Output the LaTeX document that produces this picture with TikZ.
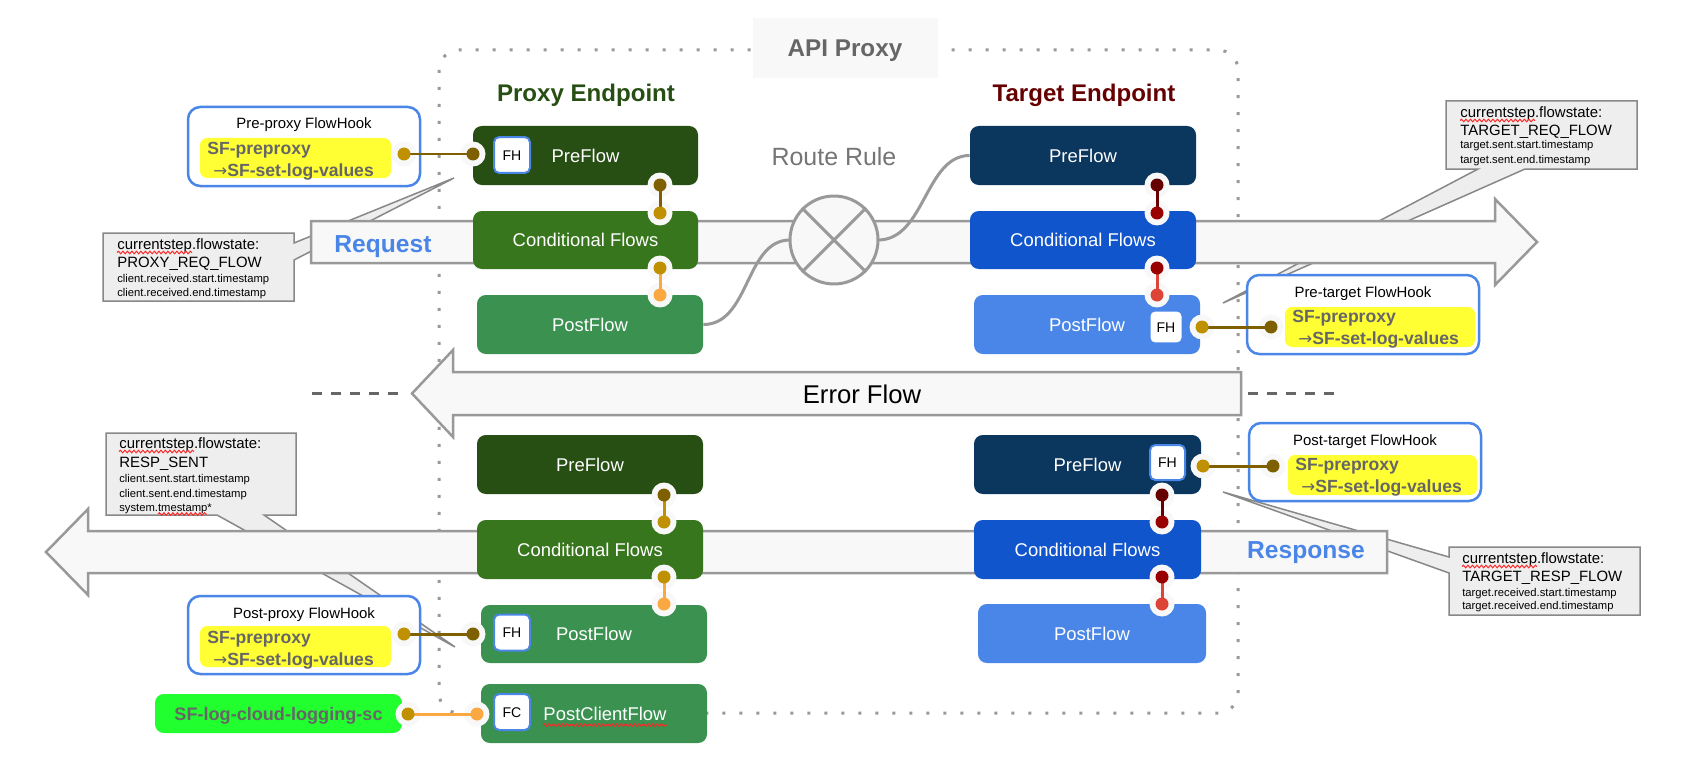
\documentclass[tikz,border=0pt]{standalone}
\usepackage{fontspec}
\setmainfont{Liberation Sans}
\newfontfamily\djv{DejaVu Sans}
\usetikzlibrary{decorations.pathmorphing}
\definecolor{pdark}{HTML}{274E13}
\definecolor{pmid}{HTML}{38761D}
\definecolor{plight}{HTML}{3A9150}
\definecolor{tdark}{HTML}{0B365E}
\definecolor{tmid}{HTML}{1155CC}
\definecolor{tlight}{HTML}{4A86E8}
\definecolor{brn}{HTML}{7F6000}
\definecolor{gold}{HTML}{BF9000}
\definecolor{orng}{HTML}{F9A842}
\definecolor{dred}{HTML}{660000}
\definecolor{mred}{HTML}{990000}
\definecolor{lred}{HTML}{DC4437}
\definecolor{blu}{HTML}{4A86E8}
\definecolor{yel}{HTML}{FFFF33}
\definecolor{grn}{HTML}{22FF2F}
\definecolor{gtext}{HTML}{666666}
\definecolor{rrtext}{HTML}{757575}
\definecolor{afill}{HTML}{F8F8F8}
\definecolor{aline}{HTML}{999999}
\definecolor{cfill}{HTML}{EEEEEE}
\definecolor{cline}{HTML}{888888}
\definecolor{dashgrey}{HTML}{666666}
\newcommand\fsz[1]{\fontsize{#1}{#1}\selectfont}
\newcommand\harr{{\djv\mdseries\fsz{9.5}→}}
\tikzset{
  fbox/.style={rounded corners=5pt, inner sep=0pt, text=white, font=\fsz{10.5}, text height=7.5pt, text depth=0pt},
  fhbox/.style={draw=blu, line width=0.04cm, fill=white, rounded corners=3pt, minimum size=0.72cm, inner sep=0pt, font=\fsz{8}, text height=5.7pt, text depth=0pt},
  halo/.style={circle, fill=afill, minimum size=0.5cm, inner sep=0pt},
  dotn/.style={circle, fill=#1, minimum size=0.26cm, inner sep=0pt},
  link/.style={line width=0.06cm},
  bigarrow/.style={fill=afill, draw=aline, line width=0.05cm},
  callout/.style={fill=cfill, draw=cline, line width=0.03cm},
  cbig/.style={anchor=base west, inner sep=0pt, font=\fsz{8.5}},
  csmall/.style={anchor=base west, inner sep=0pt, font=\fsz{6.4}},
  hookbox/.style={draw=blu, line width=0.05cm, fill=white, rounded corners=7pt, inner sep=0pt},
  yelbox/.style={fill=yel, rounded corners=4pt, inner sep=0pt},
  hooktitle/.style={anchor=base, inner sep=0pt, font=\fsz{8.5}},
  yeltext/.style={anchor=base west, inner sep=0pt, font=\fsz{10}\bfseries, text=gtext},
  wavy/.style={draw=red!85, line width=0.02cm, decorate, decoration={snake, amplitude=0.025cm, segment length=0.09cm}},
  errdash/.style={draw=dashgrey, line width=0.06cm, dash pattern=on 0.2cm off 0.18cm},
}
\newcommand\fbx[7]{\node[fbox, fill=#6, minimum width={(#4-#2)*0.02cm}, minimum height={(#5-#3)*0.02cm}] (#1) at ({(#2+#4)/2},{(#3+#5)/2}) {#7};}
\newcommand\hbx[5]{\node[hookbox, minimum width={(#4-#2)*0.02cm}, minimum height={(#5-#3)*0.02cm}] (#1) at ({(#2+#4)/2},{(#3+#5)/2}) {};}
\newcommand\ybx[5]{\node[yelbox, minimum width={(#4-#2)*0.02cm}, minimum height={(#5-#3)*0.02cm}] (#1) at ({(#2+#4)/2},{(#3+#5)/2}) {};}
\newcommand\dlink[6]{%
  \node[halo] (#1a) at (#2) {};
  \node[halo] (#1b) at (#4) {};
  \draw[link, #6] (#1a.center) -- (#1b.center);
  \node[dotn=#3] (#1c) at (#1a) {};
  \node[dotn=#5] (#1d) at (#1b) {};}
\begin{document}
\begin{tikzpicture}[x=0.02cm, y=-0.02cm]
\useasboundingbox (0,0) rectangle (1697,777);
\fill[white] (0,0) rectangle (1697,777);

% API proxy boundary
\draw[draw=aline, line width=0.06cm, dash pattern=on 0.06cm off 0.28cm, rounded corners=0.4cm] (439,50) rectangle (1238,713);
\node[fill=afill, minimum width=3.7cm, minimum height=1.2cm, inner sep=0pt] (apibox) at (845.5,48) {};
\node[anchor=base, inner sep=0pt, font=\fsz{13.8}\bfseries, text=gtext] (apitext) at (845,57) {API Proxy};

% callouts
\draw[callout] (103,233) -- (294,233) -- (294,243) -- (454,178) -- (294,260) -- (294,301) -- (103,301) -- cycle;
\node[cbig] (c1a) at (117,249) {currentstep.flowstate:};
\node[cbig] (c1b) at (117,267) {PROXY\_REQ\_FLOW};
\node[csmall] (c1c) at (117,282) {client.received.start.timestamp};
\node[csmall] (c1d) at (117,296) {client.received.end.timestamp};
\draw[wavy] ([yshift=-0.07cm]c1a.base west) -- ++(75,0);

\draw[callout] (1446,101) -- (1637,101) -- (1637,169) -- (1525,169) -- (1223,303) -- (1478,169) -- (1446,169) -- cycle;
\node[cbig] (c2a) at (1460,117) {currentstep.flowstate:};
\node[cbig] (c2b) at (1460,135) {TARGET\_REQ\_FLOW};
\node[csmall] (c2c) at (1460,149) {target.sent.start.timestamp};
\node[csmall] (c2d) at (1460,163) {target.sent.end.timestamp};
\draw[wavy] ([yshift=-0.07cm]c2a.base west) -- ++(75,0);

\draw[callout] (106,433) -- (296,433) -- (296,515) -- (264,515) -- (455,647) -- (217,515) -- (106,515) -- cycle;
\node[cbig] (c3a) at (119,448) {currentstep.flowstate:};
\node[cbig] (c3b) at (119,467) {RESP\_SENT};
\node[csmall] (c3c) at (119,482) {client.sent.start.timestamp};
\node[csmall] (c3d) at (119,497) {client.sent.end.timestamp};
\node[csmall] (c3e) at (119,511) {system.tmestamp*};
\draw[wavy] ([yshift=-0.07cm]c3a.base west) -- ++(75,0);
\draw[wavy] ([xshift=0.78cm, yshift=-0.06cm]c3e.base west) -- ++(49,0);

\draw[callout] (1449,547) -- (1640,547) -- (1640,615) -- (1449,615) -- (1449,573) -- (1223,492) -- (1449,557) -- cycle;
\node[cbig] (c4a) at (1462,563) {currentstep.flowstate:};
\node[cbig] (c4b) at (1462,581) {TARGET\_RESP\_FLOW};
\node[csmall] (c4c) at (1462,596) {target.received.start.timestamp};
\node[csmall] (c4d) at (1462,609) {target.received.end.timestamp};
\draw[wavy] ([yshift=-0.07cm]c4a.base west) -- ++(75,0);

% big arrows
\draw[bigarrow] (311,221) -- (1495,221) -- (1495,199) -- (1537,242) -- (1495,285) -- (1495,263) -- (311,263) -- cycle;
\node[anchor=base, inner sep=0pt, font=\fsz{14}\bfseries, text=blu] (req) at (383,252) {Request};
\draw[bigarrow] (1241,372) -- (453,372) -- (453,350) -- (412,393.5) -- (453,437) -- (453,415) -- (1241,415) -- cycle;
\node[anchor=base, inner sep=0pt, font=\fsz{14.6}] (err) at (862,403) {Error Flow};
\coordinate (e1) at (312,393.5); \coordinate (e2) at (406,393.5);
\coordinate (e3) at (1248,393.5); \coordinate (e4) at (1337,393.5);
\draw[errdash] (e1) -- (e2);
\draw[errdash] (e3) -- (e4);
\draw[bigarrow] (1387,531) -- (88,531) -- (88,509) -- (46,552) -- (88,595) -- (88,573) -- (1387,573) -- cycle;
\node[anchor=base, inner sep=0pt, font=\fsz{14}\bfseries, text=blu] (resp) at (1306,558) {Response};

% titles
\node[anchor=base, inner sep=0pt, font=\fsz{13.7}\bfseries, text=pdark] (ptitle) at (586,102) {Proxy Endpoint};
\node[anchor=base, inner sep=0pt, font=\fsz{13.7}\bfseries, text=dred] (ttitle) at (1084,102) {Target Endpoint};

% endpoint boxes
\fbx{ppre}{473}{126}{698}{185}{pdark}{PreFlow}
\fbx{pcond}{473}{211}{698}{269}{pmid}{Conditional Flows}
\fbx{ppost}{477}{295}{703}{354}{plight}{PostFlow}
\fbx{tpre}{970}{126}{1196}{185}{tdark}{PreFlow}
\fbx{tcond}{970}{211}{1196}{269}{tmid}{Conditional Flows}
\fbx{tpost}{974}{295}{1200}{354}{tlight}{PostFlow}
\fbx{rppre}{477}{435}{703}{494}{pdark}{PreFlow}
\fbx{rpcond}{477}{520}{703}{579}{pmid}{Conditional Flows}
\fbx{rppost}{481}{605}{707}{663}{plight}{PostFlow}
\fbx{rpcf}{481}{684}{707}{743}{plight}{}
\node[fbox] (pcftext) at (605,713.5) {PostClientFlow};
\draw[wavy] ([yshift=-0.1cm]pcftext.base west) -- ([yshift=-0.1cm]pcftext.base east);
\fbx{rtpre}{974}{435}{1201}{494}{tdark}{PreFlow}
\fbx{rtcond}{974}{520}{1201}{579}{tmid}{Conditional Flows}
\fbx{rtpost}{978}{604}{1206}{663}{tlight}{PostFlow}

% route rule
\draw[aline, line width=0.06cm] (ppost.east) .. controls (750,324.5) and (745,240) .. (790,240);
\draw[aline, line width=0.06cm] (878,240) .. controls (925,240) and (925,155.5) .. (tpre.west);
\node[circle, draw=aline, fill=afill, line width=0.06cm, minimum size=1.76cm, inner sep=0pt] (rr) at (834,240) {};
\draw[aline, line width=0.06cm] (rr.north west) -- (rr.south east);
\draw[aline, line width=0.06cm] (rr.north east) -- (rr.south west);
\node[anchor=base, inner sep=0pt, font=\fsz{14.2}, text=rrtext] (rrl) at (834,165) {Route Rule};

% FH / FC boxes
\node[fhbox] (fh1) at (512,155) {FH};
\node[fhbox, minimum size=0.66cm] (fh2) at (1166,327) {FH};
\node[fhbox] (fh3) at (512,632.5) {FH};
\node[fhbox] (fc1) at (512,712) {FC};
\node[fhbox, minimum size=0.7cm] (fh4) at (1167.5,462.5) {FH};

% vertical connectors
\dlink{v1}{660,185}{brn}{660,213}{gold}{brn}
\dlink{v2}{660,268}{gold}{660,295}{orng}{orng}
\dlink{v3}{1157,185}{dred}{1157,213}{mred}{dred}
\dlink{v4}{1157,268}{mred}{1157,295}{lred}{lred}
\dlink{v5}{664,495}{brn}{664,522}{gold}{gold}
\dlink{v6}{664,577}{gold}{664,604}{orng}{orng}
\dlink{v7}{1162,495}{dred}{1162,522}{mred}{dred}
\dlink{v8}{1162,577}{mred}{1162,604}{lred}{lred}

% flowhook boxes
\hbx{hk1}{188}{107}{420}{186}
\ybx{y1}{200}{138}{391}{178}
\node[hooktitle] (hk1t) at (304,129) {Pre-proxy FlowHook};
\node[yeltext] (y1a) at (207,154) {SF-preproxy};
\node[yeltext] (y1b) at (213,176) {\harr SF-set-log-values};

\hbx{hk2}{1247}{275}{1479}{354}
\ybx{y2}{1285}{307}{1475}{347}
\node[hooktitle] (hk2t) at (1363,297) {Pre-target FlowHook};
\node[yeltext] (y2a) at (1292,322) {SF-preproxy};
\node[yeltext] (y2b) at (1298,344) {\harr SF-set-log-values};

\hbx{hk3}{188}{596}{420}{674}
\ybx{y3}{200}{626}{391}{667}
\node[hooktitle] (hk3t) at (304,618) {Post-proxy FlowHook};
\node[yeltext] (y3a) at (207,643) {SF-preproxy};
\node[yeltext] (y3b) at (213,665) {\harr SF-set-log-values};

\hbx{hk4}{1249}{423}{1481}{501}
\ybx{y4}{1288}{455}{1477}{495}
\node[hooktitle] (hk4t) at (1365,445) {Post-target FlowHook};
\node[yeltext] (y4a) at (1295,470) {SF-preproxy};
\node[yeltext] (y4b) at (1301,492) {\harr SF-set-log-values};

\node[fbox, fill=grn, minimum width={(402-155)*0.02cm}, minimum height={(733-694)*0.02cm}, font=\fsz{10.3}\bfseries, text=gtext, text height=7.4pt] (logsc) at (278.5,713.5) {SF-log-cloud-logging-sc};

% hook connectors
\dlink{h1}{404,154}{gold}{473,154}{brn}{brn}
\dlink{h2}{1202,327}{gold}{1271,327}{brn}{brn}
\dlink{h3}{404,634}{gold}{473,634}{brn}{brn}
\dlink{h4}{1203,466}{gold}{1273,466}{brn}{brn}
\dlink{h5}{408,714}{gold}{477,714}{orng}{orng}
\end{tikzpicture}
\end{document}
